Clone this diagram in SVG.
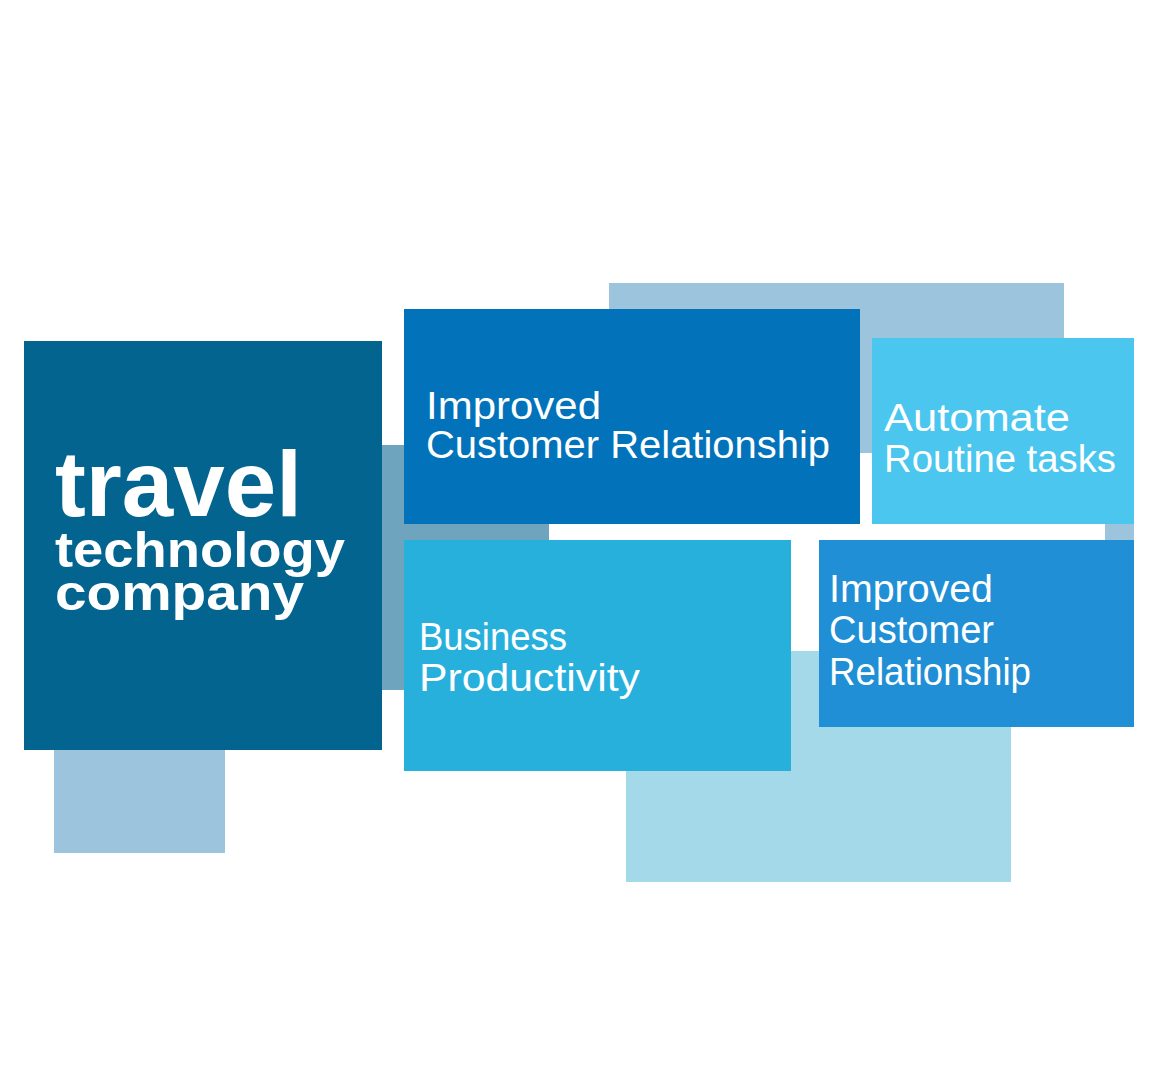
<svg xmlns="http://www.w3.org/2000/svg" width="1164" height="1080" viewBox="0 0 1164 1080">
<style>
.t{fill:#ffffff;font-family:"Liberation Sans",Arial,sans-serif;font-size:38px;}
.b{fill:#ffffff;font-family:"Liberation Sans",Arial,sans-serif;font-weight:bold;}
</style>
<rect width="1164" height="1080" fill="#ffffff"/>
<g id="backgrounds">
<rect x="609" y="283" width="455" height="170" fill="#9cc4dc"/>
<rect x="1105" y="518" width="29" height="24" fill="#9cc4dc"/>
<rect x="626" y="651" width="385" height="231" fill="#a3d9e9"/>
<rect x="382" y="445" width="167" height="245" fill="#6fa4bf"/>
<rect x="54" y="745" width="171" height="108" fill="#9cc4dc"/>
</g>
<g id="node-travel">
<rect x="24" y="341" width="358" height="409" fill="#03658f"/>
<text class="b"><tspan x="55" y="516" font-size="92" textLength="247" lengthAdjust="spacingAndGlyphs">travel</tspan><tspan x="55" y="567" font-size="50" textLength="290" lengthAdjust="spacingAndGlyphs">technology</tspan><tspan x="55" y="610" font-size="50" textLength="249" lengthAdjust="spacingAndGlyphs">company</tspan></text>
</g>
<g id="node-improved-top">
<rect x="404" y="309" width="456" height="215" fill="#0273ba"/>
<text class="t" x="426" y="419" textLength="175" lengthAdjust="spacingAndGlyphs">Improved</text>
<text class="t" x="426" y="458" textLength="404" lengthAdjust="spacingAndGlyphs">Customer Relationship</text>
</g>
<g id="node-automate">
<rect x="872" y="338" width="262" height="186" fill="#4bc6ee"/>
<text class="t" x="884" y="431" textLength="186" lengthAdjust="spacingAndGlyphs">Automate</text>
<text class="t" x="884" y="472" textLength="232" lengthAdjust="spacingAndGlyphs">Routine tasks</text>
</g>
<g id="node-business">
<rect x="404" y="540" width="387" height="231" fill="#28b0dd"/>
<text class="t" x="419" y="650" textLength="148" lengthAdjust="spacingAndGlyphs">Business</text>
<text class="t" x="419" y="691" textLength="221" lengthAdjust="spacingAndGlyphs">Productivity</text>
</g>
<g id="node-improved-right">
<rect x="819" y="540" width="315" height="187" fill="#208fd5"/>
<text class="t" x="829" y="602" textLength="164" lengthAdjust="spacingAndGlyphs">Improved</text>
<text class="t" x="829" y="643" textLength="165" lengthAdjust="spacingAndGlyphs">Customer</text>
<text class="t" x="829" y="685" textLength="202" lengthAdjust="spacingAndGlyphs">Relationship</text>
</g>
<g id="connectors"></g>
</svg>
